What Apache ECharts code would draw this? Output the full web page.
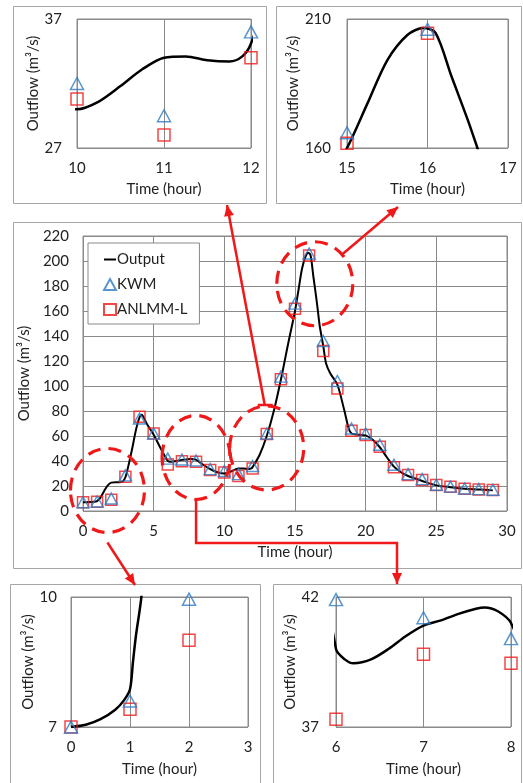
<!DOCTYPE html>
<html><head><meta charset="utf-8">
<script src="https://cdn.jsdelivr.net/npm/echarts@6/dist/echarts.min.js"></script>
<style>html,body{margin:0;padding:0;background:#fff}#c{width:523px;height:783px}</style>
</head><body><div id="c"></div><script>
// ---------------- data ----------------
const hours = [0,1,2,3,4,5,6,7,8,9,10,11,12,13,14,15,16,17,18,19,20,21,22,23,24,25,26,27,28,29];
const kwm   = [7.0,7.6,9.95,28.5,74,62,41.9,41.2,40.4,33.5,32.0,29.5,36.0,62,107.5,165.9,206,136,104,66,62,53,37,29.5,25.5,21,19.5,18,17.5,17];
const anlmm = [7.0,7.41,9.0,27.5,75.5,62,37.3,39.8,39.45,32.8,30.8,28.0,34.0,61.6,105.4,161.8,204.5,128,98,64.3,60.8,51.5,35,28.8,24.8,20.8,19.5,17.9,17.3,16.8];
const outputTime = [0,0.25,0.5,0.75,0.9,1,1.05,1.1,1.2,1.5,1.75,2,2.5,2.8,3,3.25,3.5,3.75,4,4.15,4.5,5,5.5,6,6.1,6.2,6.4,6.6,6.8,7,7.2,7.4,7.6,7.7,7.85,8,8.5,9,9.5,10,10.25,10.5,10.75,11,11.25,11.5,11.75,11.9,12,12.5,13,13.5,14,14.5,15,15.25,15.5,15.75,15.95,16.1,16.3,16.5,16.62,16.75,17,17.2,17.5,18,18.5,18.8,19,19.5,20,20.5,21,21.5,22,22.5,23,23.5,24,25,26,27,28,29];
const outputFlow = [7.0,7.05,7.18,7.4,7.62,7.87,8.5,9.1,10.1,16,20.5,22.7,23,23.5,27,38,51,65,75,77,70,61,50,40.0,39.6,39.45,39.6,40.0,40.5,40.9,41.1,41.35,41.55,41.6,41.45,41.0,37,33.5,31,30.0,30.6,31.8,33.1,34.0,34.1,33.8,33.7,34.1,35.1,45,60,80,105,133,160,177,194,203.8,206.5,204.6,187.6,170.9,160,148,132,118,110,101,80,66,62,61,60.5,57,51,43,35.5,31,28,26,24,20.5,19,17.8,17.2,16.5];
// tick labels
const mainXTicks = [0,5,10,15,20,25,30];
const mainYTicks = [0,20,40,60,80,100,120,140,160,180,200,220];
const tlXTicks = [10,11,12], tlYTicks = [27,37];
const trXTicks = [15,16,17], trYTicks = [160,210];
const blXTicks = [0,1,2,3],  blYTicks = [7,10];
const brXTicks = [6,7,8],    brYTicks = [37,42];
// highlighted regions of the main chart (data units)
const zoneTime = [1.73, 8.0, 13.0, 16.4];
const zoneFlow = [16.4, 42.8, 50.4, 181.8];

// ---------------- helpers ----------------
const FONT = 'Lato';
const TXT = '#222';
const GRIDC = '#8a8a8a';
const BLUE = '#2f7cc4', RED = '#f01818';
const FS = 15;
const outputPairs = outputTime.map((t,i)=>[t, outputFlow[i]]);
function pairs(vals){ return hours.map((h,i)=>[h, vals[i]]); }
function within(arr, xt, yt){
  return arr.filter(p => p[0]>=xt[0] && p[0]<=xt[xt.length-1] && p[1]>=yt[0] && p[1]<=yt[yt.length-1]);
}
function xAxis(idx, ticks, gap, margin){
  return { type:'value', gridIndex:idx, min:ticks[0], max:ticks[ticks.length-1], interval:ticks[1]-ticks[0],
    name:'Time (hour)', nameLocation:'middle', nameGap:gap,
    nameTextStyle:{fontFamily:FONT, fontSize:FS, color:TXT},
    axisLine:{show:false}, axisTick:{show:false},
    axisLabel:{fontFamily:FONT, fontSize:FS, color:TXT, margin:margin, showMinLabel:true, showMaxLabel:true},
    splitLine:{show:true, lineStyle:{color:GRIDC, width:1}} };
}
function yAxis(idx, ticks, gap, margin){
  return { type:'value', gridIndex:idx, min:ticks[0], max:ticks[ticks.length-1], interval:ticks[1]-ticks[0],
    name:'Outflow (m³/s)', nameLocation:'middle', nameGap:gap, nameRotate:90,
    nameTextStyle:{fontFamily:FONT, fontSize:FS, color:TXT},
    axisLine:{show:false}, axisTick:{show:false},
    axisLabel:{fontFamily:FONT, fontSize:FS, color:TXT, margin:margin, showMinLabel:true, showMaxLabel:true},
    splitLine:{show:true, lineStyle:{color:GRIDC, width:1}} };
}
const panels = [
  {grid:{left:77, top:19, width:174, height:129}, x:tlXTicks, y:tlYTicks, xg:34, yg:36, ym:15},
  {grid:{left:347, top:19, width:161, height:129}, x:trXTicks, y:trYTicks, xg:34, yg:42, ym:16},
  {grid:{left:83, top:236, width:424, height:275}, x:mainXTicks, y:mainYTicks, xg:34, yg:44, ym:14, main:true},
  {grid:{left:71, top:597, width:177, height:130}, x:blXTicks, y:blYTicks, xg:35, yg:31, ym:14},
  {grid:{left:336, top:597, width:175, height:130}, x:brXTicks, y:brYTicks, xg:35, yg:38, ym:17}
];
const grids=[], xAxes=[], yAxes=[], series=[];
panels.forEach((p,i)=>{
  grids.push(Object.assign({show:true, borderColor:GRIDC, borderWidth:1, containLabel:false}, p.grid));
  xAxes.push(xAxis(i, p.x, p.xg, 13));
  yAxes.push(yAxis(i, p.y, p.yg, p.ym));
  const sz = p.main ? 11 : 12;
  series.push({ name:'Output', type:'line', xAxisIndex:i, yAxisIndex:i, data:outputPairs,
    showSymbol:false, symbol:'none', smooth:0.3, clip:true,
    lineStyle:{color:'#000', width:p.main?2:2.5}, itemStyle:{color:'#000'}, z:3 });
  series.push({ name:'ANLMM-L', type:'scatter', xAxisIndex:i, yAxisIndex:i,
    data: p.main ? pairs(anlmm) : within(pairs(anlmm), p.x, p.y),
    symbol:'rect', symbolSize:sz, clip:false,
    itemStyle:{color:'rgba(255,255,255,0)', borderColor:RED, borderWidth:1.5}, z:4 });
  series.push({ name:'KWM', type:'scatter', xAxisIndex:i, yAxisIndex:i,
    data: p.main ? pairs(kwm) : within(pairs(kwm), p.x, p.y),
    symbol:'triangle', symbolSize:[sz+1, sz], clip:false,
    itemStyle:{color:'rgba(255,255,255,0)', borderColor:BLUE, borderWidth:1.5}, z:5 });
});

const chart = echarts.init(document.getElementById('c'), null, {renderer:'canvas'});
chart.setOption({
  backgroundColor:'#fff',
  animation:false,
  textStyle:{fontFamily:FONT},
  grid:grids, xAxis:xAxes, yAxis:yAxes, series:series,
  legend:{ left:88, top:243, orient:'vertical', borderColor:GRIDC, borderWidth:1, backgroundColor:'#fff',
    padding:[9,12,7,15], itemGap:10, itemWidth:12, itemHeight:11,
    textStyle:{fontFamily:FONT, fontSize:15, color:TXT, padding:[0,0,0,-4]},
    data:[
      {name:'Output', icon:'path://M0,0L12,0L12,2L0,2Z', itemStyle:{color:'#000', borderWidth:0}},
      {name:'KWM'},
      {name:'ANLMM-L'}
    ], selectedMode:false }
});

// ---------------- annotations ----------------
function head(x1,y1,x2,y2){
  const a = Math.atan2(y2-y1, x2-x1), L=11, W=5;
  const bx = x2 - L*Math.cos(a), by = y2 - L*Math.sin(a);
  return { type:'polygon', z:100, silent:true,
    shape:{points:[[x2,y2],[bx + W*Math.sin(a), by - W*Math.cos(a)],[bx - W*Math.sin(a), by + W*Math.cos(a)]]},
    style:{fill:RED} };
}
function seg(points){
  return { type:'polyline', z:100, silent:true, shape:{points:points}, style:{stroke:RED, lineWidth:2.5, fill:null} };
}
const boxStyle = {fill:null, stroke:'#a6a6a6', lineWidth:1};
const g = [
  {type:'rect', shape:{x:13.5,y:6.5,width:253,height:197}, style:boxStyle, silent:true},
  {type:'rect', shape:{x:276.5,y:6.5,width:245,height:197}, style:boxStyle, silent:true},
  {type:'rect', shape:{x:13.5,y:222.5,width:508,height:346}, style:boxStyle, silent:true},
  {type:'rect', shape:{x:10.5,y:584.5,width:250,height:210}, style:boxStyle, silent:true},
  {type:'rect', shape:{x:273.5,y:584.5,width:248,height:210}, style:boxStyle, silent:true}
];
const rx = [37,34,37,38], ry = [42,42,42,42];
const c = zoneTime.map((t,i)=>chart.convertToPixel({gridIndex:2}, [t, zoneFlow[i]]));
c.forEach((p,i)=>{
  g.push({type:'ellipse', z:100, silent:true, shape:{cx:p[0], cy:p[1], rx:rx[i], ry:ry[i]},
    style:{fill:null, stroke:RED, lineWidth:3.2, lineDash:[13,8]}});
});
// arrow 1: zone 1 -> bottom-left panel
{ const s=[c[0][0], c[0][1]+52], e=[135,585]; g.push(seg([s,e])); g.push(head(s[0],s[1],e[0],e[1])); }
// arrow 2: zone 2 -> bottom-right panel (elbow)
{ const s=[c[1][0], c[1][1]+ry[1]]; const pts=[s,[s[0],543],[397,543],[397,584]];
  g.push(seg(pts)); g.push(head(397,543,397,584)); }
// arrow 3: zone 3 -> top-left panel
{ const s=[c[2][0]-2, c[2][1]-43], e=[227,205]; g.push(seg([s,e])); g.push(head(s[0],s[1],e[0],e[1]));
  g.push(seg([[s[0]-7,s[1]],[s[0]+8,s[1]]])); }
// arrow 4: zone 4 -> top-right panel
{ const s=[c[3][0]+27, c[3][1]-29], e=[398,207]; g.push(seg([s,e])); g.push(head(s[0],s[1],e[0],e[1])); }
chart.setOption({graphic:g});
</script></body></html>
